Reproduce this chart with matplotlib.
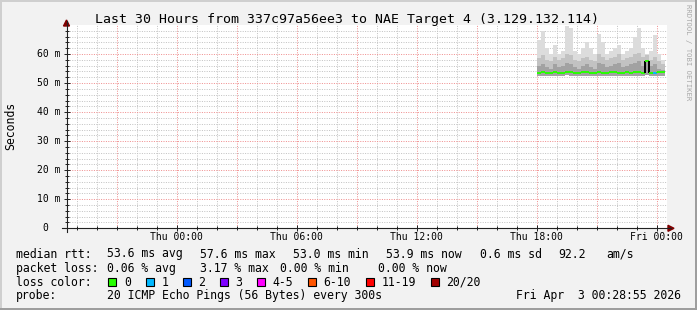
import matplotlib
matplotlib.use("Agg")
import matplotlib.pyplot as plt
import numpy as np
from matplotlib import transforms
from matplotlib.collections import LineCollection
from matplotlib.lines import Line2D
from matplotlib.patches import Rectangle

W, H = 697, 310
MONO = "DejaVu Sans Mono"

# rrdtool default colours
BACK = "#f2f2f2"
SHADE_A = "#cfcfcf"
SHADE_B = "#9e9e9e"
AXIS = "#212121"
ARROW = "#800000"
GRID = "#c4c4c4"
MGRID = "#f09090"

# time axis in hours relative to Thu 00:00, window ends Fri 00:28:55
t_end = 24 + 28 / 60 + 55 / 3600
t_start = t_end - 30

x_ticks = [0, 6, 12, 18, 24]
x_labels = ["Thu 00:00", "Thu 06:00", "Thu 12:00", "Thu 18:00", "Fri 00:00"]
y_ticks = [0, 10, 20, 30, 40, 50, 60]
y_labels = ["0", "10 m", "20 m", "30 m", "40 m", "50 m", "60 m"]

# smoke columns, one every 12 minutes from Thu 18:00 (values in ms)
col_start = 18.0
col_width = 0.2
smoke_lo = [52.6, 52.5, 52.6, 52.4, 52.6, 52.5, 52.6, 52.7, 52.5, 52.4, 52.6, 52.5,
            52.6, 52.5, 52.4, 52.6, 52.5, 52.6, 52.5, 52.6, 52.5, 52.4, 52.6, 52.5,
            52.6, 52.5, 52.6, 52.7, 52.5, 52.6, 52.5, 52.6]
smoke_dark = [56.0, 56.5, 55.5, 55.0, 56.5, 55.5, 56.0, 57.0, 56.5, 55.5, 55.0, 56.0,
              56.5, 55.5, 55.0, 57.0, 56.5, 55.5, 56.0, 56.5, 57.0, 55.5, 56.0, 56.5,
              57.0, 57.5, 56.0, 57.8, 56.0, 56.5, 55.0, 54.5]
smoke_mid = [58.5, 59.5, 58.0, 57.5, 59.0, 58.0, 58.5, 60.0, 59.5, 58.0, 57.5, 58.5,
             59.0, 58.0, 57.5, 60.0, 59.0, 58.0, 58.5, 59.0, 60.0, 58.0, 58.5, 59.0,
             60.0, 60.5, 59.0, 59.5, 58.0, 59.0, 57.5, 56.5]
smoke_max = [65.0, 68.0, 62.0, 60.0, 63.0, 60.0, 61.0, 69.5, 69.0, 61.0, 60.0, 62.0,
             64.0, 62.0, 60.0, 67.0, 64.0, 60.0, 61.0, 62.0, 63.0, 60.0, 61.0, 62.0,
             66.0, 69.0, 62.0, 60.0, 61.0, 66.5, 60.0, 58.0]
median = [53.5, 53.7, 53.4, 53.6, 53.8, 53.5, 53.6, 53.9, 53.7, 53.5, 53.6, 53.8,
          53.7, 53.5, 53.6, 53.9, 53.6, 53.5, 53.7, 53.8, 53.6, 53.5, 53.7, 53.6,
          53.8, 53.7, 53.6, 57.5, 53.6, 53.5, 53.7, 53.9]
loss = [0, 0, 0, 0, 0, 0, 0, 0, 0, 0, 0, 0, 0, 0, 0, 0,
        0, 0, 0, 0, 0, 0, 0, 0, 0, 0, 0, 0, 0, 1, 0, 0]

loss_names = ["0", "1", "2", "3", "4-5", "6-10", "11-19", "20/20"]
loss_colors = ["#26ff00", "#00b8ff", "#0059ff", "#7e00ff", "#ff00ff", "#ff5500", "#ff0000", "#a10000"]

rtt_stats = [("53.6", "ms avg"), ("57.6", "ms max"), ("53.0", "ms min"), ("53.9", "ms now"), ("0.6", "ms sd")]
am_s = "92.2"
loss_stats = [("0.06", "% avg"), ("3.17", "% max"), ("0.00", "% min"), ("0.00", "% now")]
title = "Last 30 Hours from 337c97a56ee3 to NAE Target 4 (3.129.132.114)"
probe = "20 ICMP Echo Pings (56 Bytes) every 300s"
stamp = "Fri Apr  3 00:28:55 2026"


def px(x, y):
    """Pixel position (top-left origin) to figure fraction."""
    return x / W, 1 - y / H


fig = plt.figure(figsize=(W / 100, H / 100), dpi=100, facecolor=BACK)

# 3D frame round the image
for (x0, y0, w, h, c) in [(0, 0, W, 2, SHADE_A), (0, 0, 2, H, SHADE_A),
                          (0, H - 2, W, 2, SHADE_B), (W - 2, 0, 2, H, SHADE_B)]:
    fig.add_artist(Rectangle((x0 / W, 1 - (y0 + h) / H), w / W, h / H,
                             transform=fig.transFigure, color=c, lw=0))

ax_left, ax_right, ax_top, ax_bottom = 66.5, 666.5, 25.0, 228.3
ax = fig.add_axes([ax_left / W, 1 - ax_bottom / H, (ax_right - ax_left) / W, (ax_bottom - ax_top) / H])
ax.set_facecolor("white")
ax.set_xlim(t_start, t_end)
ax.set_ylim(0, 70)
for s in ax.spines.values():
    s.set_visible(False)

# grid: grey every hour / 2 ms, red every 3 h / 10 ms
dots = (0, (1, 1.4))
for h in range(int(np.ceil(t_start)), int(t_end) + 1):
    ax.axvline(h, color=GRID if h % 3 else MGRID, lw=0.72, ls=dots, zorder=0)
for v in range(2, 70, 2):
    ax.axhline(v, color=MGRID if v % 10 == 0 else GRID, lw=0.72, ls=dots, zorder=0)

# smoke
n = len(median)
xs = col_start + col_width * np.arange(n + 1)
ext = lambda a: np.append(a, a[-1])
lo = ext(smoke_lo)
ax.fill_between(xs, lo, ext(smoke_max), step="post", color="#dcdcdc", lw=0, zorder=2)
ax.fill_between(xs, lo, ext(smoke_mid), step="post", color="#c2c2c2", lw=0, zorder=2)
ax.fill_between(xs, lo, ext(smoke_dark), step="post", color="#a2a2a2", lw=0, zorder=2)

# median line coloured by loss; big jumps show as dark edges
segs, cols = [], []
for k in range(n):
    c = loss_colors[loss[k]]
    if k > 0:
        jump = abs(median[k] - median[k - 1])
        segs.append([(xs[k], median[k - 1]), (xs[k], median[k])])
        cols.append("#000000" if jump > 1.5 else c)
    segs.append([(xs[k], median[k]), (xs[k + 1], median[k])])
    cols.append(c)
ax.add_collection(LineCollection(segs, colors=cols, lw=1.4, capstyle="butt", zorder=3))

# ticks
ax.set_xticks(x_ticks)
ax.set_xticklabels(x_labels, family=MONO, fontsize=7)
ax.set_xticks(np.arange(int(np.ceil(t_start)), int(t_end) + 1), minor=True)
ax.set_yticks(y_ticks)
ax.set_yticklabels([])
ax.set_yticks(np.arange(0, 70, 2), minor=True)
ax.tick_params(axis="x", which="major", direction="inout", length=5, width=0.7, color=AXIS, pad=0.5)
ax.tick_params(axis="x", which="minor", direction="inout", length=3, width=0.7, color=AXIS)
ax.tick_params(axis="y", which="major", direction="inout", length=5, width=0.7, color=AXIS, pad=0)
ax.tick_params(axis="y", which="minor", direction="inout", length=3, width=0.7, color=AXIS)

ylab_tr = transforms.blended_transform_factory(fig.transFigure, ax.transData)
for v, lab in zip(y_ticks, y_labels):
    if lab == "0":
        ax.text(45 / W, v, lab, transform=ylab_tr, ha="center", va="center", family=MONO, fontsize=7)
    else:
        ax.text(60.5 / W, v, lab, transform=ylab_tr, ha="right", va="center", family=MONO, fontsize=7)

# axis lines with arrows (pixel positions, top-left origin)
for (xa, ya) in [([ax_left, ax_left], [232, 21]), ([62, 671], [ax_bottom, ax_bottom])]:
    fx, fy = zip(*[px(a, b) for a, b in zip(xa, ya)])
    fig.add_artist(Line2D(fx, fy, color=AXIS, lw=0.8, transform=fig.transFigure))
fig.add_artist(plt.Polygon([px(ax_left - 3, 26), px(ax_left + 3, 26), px(ax_left, 20)],
                           closed=True, color=ARROW, transform=fig.transFigure))
fig.add_artist(plt.Polygon([px(668, ax_bottom - 3), px(668, ax_bottom + 3), px(674, ax_bottom)],
                           closed=True, color=ARROW, transform=fig.transFigure))

# texts
fig.text(*px(347, 19), title, ha="center", va="center", family=MONO, fontsize=9.55)
fig.text(*px(11, 126), "Seconds", rotation=90, ha="center", va="center", family=MONO, fontsize=8.3)
fig.text(*px(688, 4), "RRDTOOL / TOBI OETIKER", rotation=270, ha="center", va="top",
         family=MONO, fontsize=5.2, color="#a8a8a8")

fs = 8.3
row_y = [254, 268.3, 282.3, 296]
fig.text(*px(16, row_y[0]), "median rtt:", va="center", family=MONO, fontsize=fs)
for xpos, (val, unit) in zip([107.3, 200, 293.3, 386, 480], rtt_stats):
    fig.text(*px(xpos, row_y[0]), f"{val} {unit}", va="center", family=MONO, fontsize=fs)
fig.text(*px(558.3, row_y[0]), am_s, va="center", family=MONO, fontsize=fs)
fig.text(*px(606.7, row_y[0]), "am/s", va="center", family=MONO, fontsize=fs)

fig.text(*px(16, row_y[1]), "packet loss:", va="center", family=MONO, fontsize=fs)
for xpos, (val, unit) in zip([107.3, 200, 280, 378.3], loss_stats):
    fig.text(*px(xpos, row_y[1]), f"{val} {unit}", va="center", family=MONO, fontsize=fs)

fig.text(*px(16, row_y[2]), "loss color:", va="center", family=MONO, fontsize=fs)
for xpos, name, c in zip([108, 145.5, 182.5, 219.5, 256.5, 307.5, 365.5, 430.5], loss_names, loss_colors):
    fig.add_artist(Rectangle((xpos / W, 1 - (row_y[2] + 4) / H), 8 / W, 8 / H,
                             transform=fig.transFigure, facecolor=c, edgecolor="black", lw=0.8))
    fig.text(*px(xpos + 16, row_y[2]), name, va="center", family=MONO, fontsize=fs)

fig.text(*px(16, row_y[3]), "probe:", va="center", family=MONO, fontsize=fs)
fig.text(*px(107.3, row_y[3]), probe, va="center", family=MONO, fontsize=fs)
fig.text(*px(681, row_y[3]), stamp, ha="right", va="center", family=MONO, fontsize=fs)

fig.savefig("out.png", dpi=100, facecolor=BACK)
